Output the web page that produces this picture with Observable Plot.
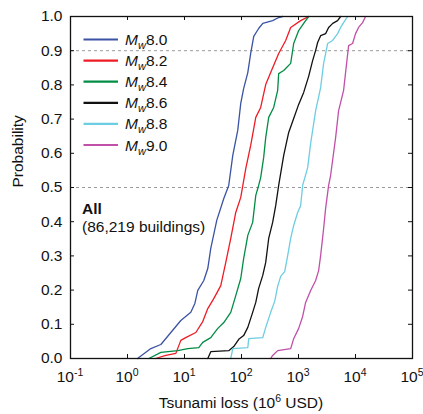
<!DOCTYPE html>
<html><head><meta charset="utf-8">
<script src="https://cdn.jsdelivr.net/npm/d3@7"></script>
<script src="https://cdn.jsdelivr.net/npm/@observablehq/plot@0.6"></script>
<style>
html,body{margin:0;padding:0;background:#fff;}
#chart svg{display:block;}
</style>
</head><body><div id="chart"></div>
<script>
// ---- data ----
const seriesNames = ["8.0", "8.2", "8.4", "8.6", "8.8", "9.0"];
const seriesColors = ["#3a53a4", "#ee1c25", "#038c45", "#111111", "#6dcde3", "#c150a8"];

const loss80 = [1.50, 2.57, 3.85, 5.76, 8.62, 12.9, 15.2, 17.1, 21.8, 25.6, 28.9, 36.8, 48.9, 59.7, 70.3, 85.9, 97, 109, 129, 145, 164, 200, 236, 352, 449, 528];
const prob80 = [0, 0.029, 0.041, 0.076, 0.111, 0.135, 0.161, 0.199, 0.228, 0.263, 0.322, 0.404, 0.468, 0.506, 0.594, 0.667, 0.746, 0.789, 0.836, 0.892, 0.942, 0.965, 0.980, 0.988, 0.997, 1.0];

const loss82 = [3.1, 4.71, 7.05, 8.62, 10.5, 15.8, 20.9, 25.6, 32.6, 43.3, 53.0, 64.8, 79.3, 97, 119, 145, 178, 217, 266, 325, 449, 596, 729, 1091, 1507];
const prob82 = [0, 0.009, 0.015, 0.053, 0.061, 0.076, 0.108, 0.146, 0.175, 0.213, 0.281, 0.351, 0.427, 0.471, 0.556, 0.623, 0.705, 0.734, 0.801, 0.836, 0.892, 0.930, 0.968, 0.988, 1.0];

const loss84 = [2.37, 3.85, 7.64, 11.4, 17.8, 20.9, 28.9, 38.4, 48.9, 64.8, 79.3, 97, 109, 129, 157, 178, 200, 217, 245, 266, 300, 367, 431, 449, 550, 729, 823, 1007, 1233, 1507];
const prob84 = [0, 0.018, 0.023, 0.029, 0.032, 0.047, 0.061, 0.088, 0.105, 0.135, 0.184, 0.234, 0.292, 0.360, 0.398, 0.477, 0.506, 0.529, 0.588, 0.646, 0.705, 0.734, 0.784, 0.833, 0.842, 0.863, 0.921, 0.959, 0.980, 1.0];

const loss86 = [25.6, 28.9, 59.7, 73.1, 89.5, 109, 129, 157, 178, 200, 236, 266, 300, 352, 398, 449, 550, 673, 823, 1007, 1233, 1507, 1770, 2000, 2167, 2445, 2992, 3376, 3990, 4853, 5485];
const prob86 = [0, 0.020, 0.023, 0.035, 0.056, 0.067, 0.091, 0.135, 0.164, 0.205, 0.243, 0.281, 0.351, 0.398, 0.447, 0.506, 0.594, 0.661, 0.702, 0.743, 0.778, 0.825, 0.871, 0.901, 0.924, 0.944, 0.950, 0.968, 0.980, 0.988, 1.0];

const loss88 = [64.8, 70.3, 129, 134, 236, 266, 325, 382, 431, 487, 572, 646, 729, 823, 967, 1091, 1183, 1448, 1634, 2000, 2445, 2761, 3243, 3970, 4853, 5485, 6185, 7265];
const prob88 = [0, 0.029, 0.032, 0.058, 0.061, 0.091, 0.135, 0.167, 0.211, 0.240, 0.254, 0.301, 0.351, 0.389, 0.427, 0.447, 0.506, 0.558, 0.629, 0.725, 0.792, 0.863, 0.921, 0.930, 0.950, 0.968, 0.982, 1.0];

const loss90 = [325, 352, 431, 729, 823, 1007, 1183, 1334, 1634, 2000, 2254, 2445, 2761, 2992, 3376, 3656, 4480, 5055, 6185, 6980, 7570, 8890, 10020, 11320, 13300, 15020];
const prob90 = [0, 0.009, 0.023, 0.029, 0.058, 0.088, 0.123, 0.164, 0.199, 0.228, 0.257, 0.301, 0.380, 0.439, 0.506, 0.535, 0.646, 0.725, 0.784, 0.863, 0.915, 0.921, 0.950, 0.968, 0.982, 1.0];

const xTicks = [0.1, 1, 10, 100, 1000, 10000, 100000];
const xTickExponents = ["-1", "0", "1", "2", "3", "4", "5"];
const yTicks = [0, 0.1, 0.2, 0.3, 0.4, 0.5, 0.6, 0.7, 0.8, 0.9, 1.0];
const refLines = [0.5, 0.9];
const yTitle = "Probability";
const xTitleParts = ["Tsunami loss (10", "6", " USD)"];
const noteTitle = "All";
const noteText = "(86,219 buildings)";

// ---- build table ----
const lossSets = [loss80, loss82, loss84, loss86, loss88, loss90];
const probSets = [prob80, prob82, prob84, prob86, prob88, prob90];
const rows = [];
seriesNames.forEach((name, i) => {
  lossSets[i].forEach((v, j) => rows.push({series: name, loss: v, prob: probSets[i][j]}));
});

// ---- layout ----
const W = 423, H = 414, mL = 70, mR = 11, mT = 16, mB = 56;
const pw = W - mL - mR, ph = H - mT - mB;
const FONT = "'Liberation Sans', Arial, Helvetica, sans-serif";
const FS = 15.5;

const plot = Plot.plot({
  width: W, height: H,
  marginLeft: mL, marginRight: mR, marginTop: mT, marginBottom: mB,
  style: {fontFamily: FONT, fontSize: FS + "px", background: "#fff", color: "#111"},
  x: {type: "log", domain: [0.1, 1e5], axis: null},
  y: {domain: [0, 1], axis: null},
  color: {domain: seriesNames, range: seriesColors},
  marks: [
    Plot.ruleY(refLines, {y: d => d, stroke: "#9a9a9a", strokeDasharray: "3,3", strokeWidth: 1}),
    Plot.line(rows, {x: "loss", y: "prob", z: "series", stroke: "series", strokeWidth: 1.3, curve: "linear"}),
    Plot.frame({stroke: "#111", strokeWidth: 1.3}),
    Plot.tickX(xTicks, {x: d => d, insetTop: ph - 4, stroke: "#111", strokeWidth: 1}),
    Plot.tickX(xTicks, {x: d => d, insetBottom: ph - 4, stroke: "#111", strokeWidth: 1}),
    Plot.tickY(yTicks, {y: d => d, insetRight: pw - 4, stroke: "#111", strokeWidth: 1}),
    Plot.tickY(yTicks, {y: d => d, insetLeft: pw - 4, stroke: "#111", strokeWidth: 1}),
    Plot.axisY(yTicks, {tickFormat: d3.format(".1f"), tickSize: 0, tickPadding: 8, fontSize: FS, label: null}),
    Plot.text([yTitle], {frameAnchor: "left", dx: -52, rotate: -90, fontSize: FS, fill: "#111"}),
    Plot.text([noteTitle], {frameAnchor: "top-left", dx: 11.5, dy: 193, textAnchor: "start", lineAnchor: "middle", fontWeight: "bold", fontSize: FS, fill: "#111"}),
    Plot.text([noteText], {frameAnchor: "top-left", dx: 11.5, dy: 210.5, textAnchor: "start", lineAnchor: "middle", fontSize: FS, fill: "#111"})
  ]
});

document.getElementById("chart").appendChild(plot);

// ---- x tick labels with superscripts, x title, legend ----
const svg = d3.select(plot);
const xs = plot.scale("x");
const gx = svg.append("g").attr("font-family", FONT).attr("fill", "#111");
xTicks.forEach((t, i) => {
  const tx = gx.append("text").attr("x", xs.apply(t)).attr("y", H - mB + 23.5)
    .attr("text-anchor", "middle").attr("font-size", FS);
  tx.append("tspan").text("10");
  tx.append("tspan").attr("font-size", 10.5).attr("dy", -6).text(xTickExponents[i]);
});
const title = gx.append("text").attr("x", mL + pw / 2).attr("y", H - 6)
  .attr("text-anchor", "middle").attr("font-size", FS);
title.append("tspan").text(xTitleParts[0]);
title.append("tspan").attr("font-size", 10.5).attr("dy", -6).text(xTitleParts[1]);
title.append("tspan").attr("dy", 6).text(xTitleParts[2]);

const lg = svg.append("g").attr("font-family", FONT).attr("fill", "#111").attr("text-anchor", "start");
const legTop = mT + 23.5, legStep = 21.1;
seriesNames.forEach((name, i) => {
  const y = legTop + i * legStep;
  lg.append("line").attr("x1", mL + 13.5).attr("x2", mL + 48).attr("y1", y).attr("y2", y)
    .attr("stroke", seriesColors[i]).attr("stroke-width", 2.2);
  const t = lg.append("text").attr("x", mL + 55).attr("y", y + 5.5).attr("font-size", FS)
    .attr("text-anchor", "start");
  t.append("tspan").attr("font-style", "italic").text("M");
  t.append("tspan").attr("font-style", "italic").attr("font-size", 11).attr("dy", 4).text("w");
  t.append("tspan").attr("dy", -4).text(name);
});
</script>
</body></html>
